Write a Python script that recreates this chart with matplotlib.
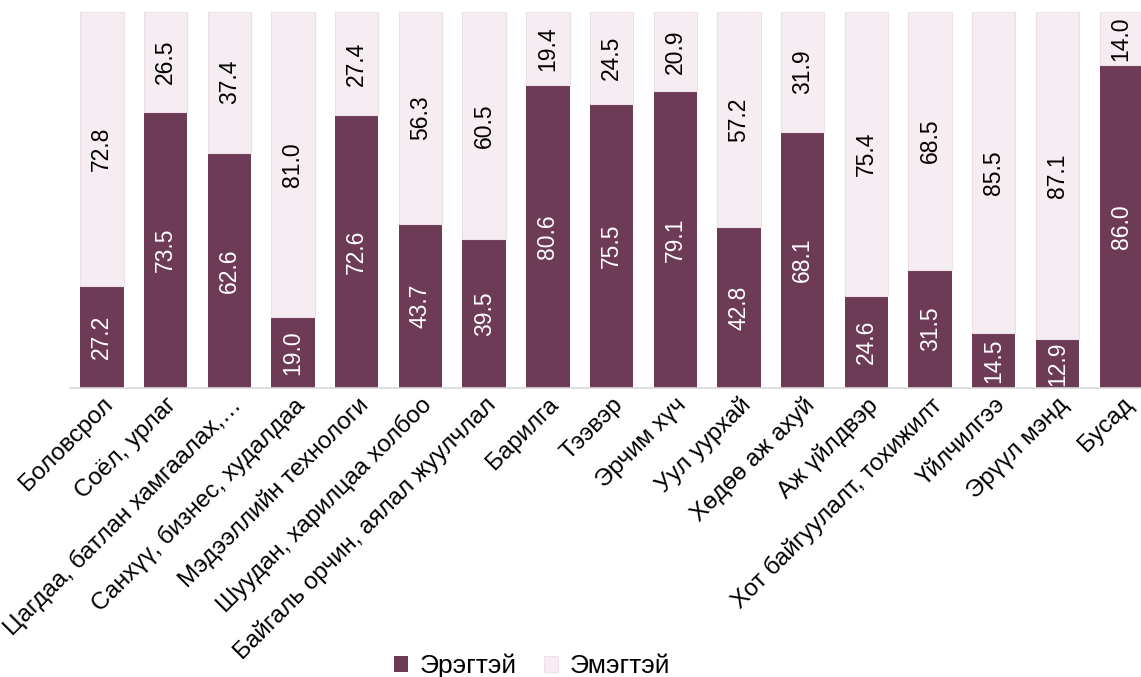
import numpy as np
import matplotlib.pyplot as plt

plt.rcParams['font.family'] = ['Liberation Sans', 'DejaVu Sans']

categories = [
    'Боловсрол', 'Соёл, урлаг', 'Цагдаа, батлан хамгаалах,…',
    'Санхүү, бизнес, худалдаа', 'Мэдээллийн технологи',
    'Шуудан, харилцаа холбоо', 'Байгаль орчин, аялал жуулчлал',
    'Барилга', 'Тээвэр', 'Эрчим хүч', 'Уул уурхай', 'Хөдөө аж ахуй',
    'Аж үйлдвэр', 'Хот байгуулалт, тохижилт', 'Үйлчилгээ', 'Эрүүл мэнд',
    'Бусад',
]
men = [27.2, 73.5, 62.6, 19.0, 72.6, 43.7, 39.5, 80.6, 75.5, 79.1, 42.8,
       68.1, 24.6, 31.5, 14.5, 12.9, 86.0]
women = [72.8, 26.5, 37.4, 81.0, 27.4, 56.3, 60.5, 19.4, 24.5, 20.9, 57.2,
         31.9, 75.4, 68.5, 85.5, 87.1, 14.0]

c_men = '#6D3B55'
c_women = '#F6EDF2'

W, H = 1141, 677
fig = plt.figure(figsize=(W / 100, H / 100), dpi=100)
ax = fig.add_axes([70 / W, (H - 388) / H, (W - 70) / W, (388 - 12) / H])

x = np.arange(len(categories))
bw = 0.68
b1 = ax.bar(x, men, bw, color=c_men, label='Эрэгтэй', zorder=2)
b2 = ax.bar(x, women, bw, bottom=men, color=c_women, edgecolor='#EFE0E8',
            linewidth=0.8, label='Эмэгтэй', zorder=2)

# value labels, rotated, centred in each segment
for i in range(len(categories)):
    ax.text(x[i], men[i] / 2, f'{men[i]:.1f}', rotation=90, ha='center',
            va='center', color='white', fontsize=16.5)
    ax.text(x[i], men[i] + women[i] / 2, f'{women[i]:.1f}', rotation=90,
            ha='center', va='center', color='black', fontsize=16.5)

ax.set_xlim(-0.5, 16.31)
ax.set_ylim(0, 100)
ax.set_xticks(x)
ax.set_xticklabels(categories, rotation=45, ha='right',
                   rotation_mode='anchor', fontsize=17.5)
ax.tick_params(axis='x', length=0, pad=4)
ax.set_yticks([])
for side in ['top', 'right', 'left']:
    ax.spines[side].set_visible(False)
ax.spines['bottom'].set_color('#D9D9D9')
ax.spines['bottom'].set_linewidth(1.2)

fig.legend(handles=[b1, b2], loc='center', bbox_to_anchor=(532 / W, 11 / H),
           ncol=2, frameon=False, fontsize=19, handlelength=0.55,
           handleheight=0.55, columnspacing=1.0, handletextpad=0.45,
           borderpad=0.2)

fig.savefig('out.png', dpi=100)
